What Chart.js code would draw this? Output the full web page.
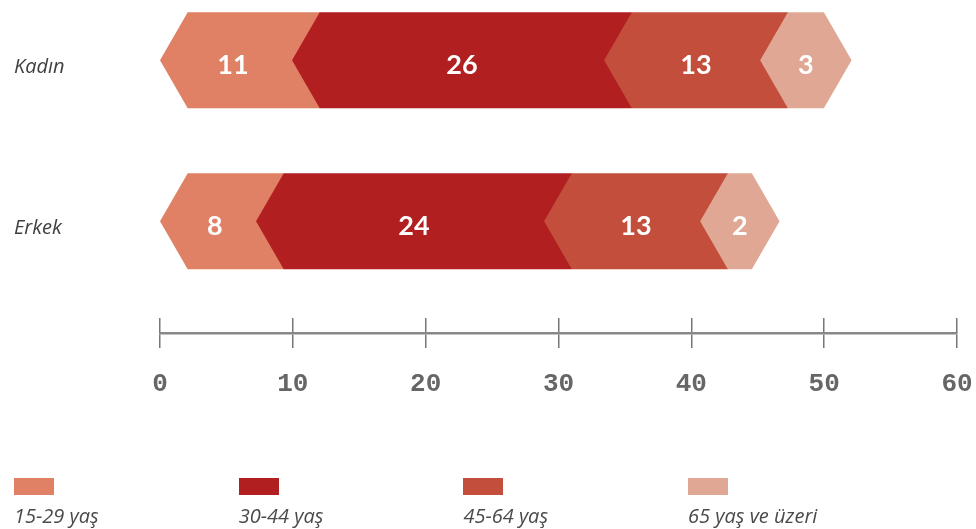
<!DOCTYPE html>
<html>
<head>
<meta charset="utf-8">
<script src="https://cdn.jsdelivr.net/npm/chart.js@4/dist/chart.umd.min.js"></script>
<style>
  html, body { margin: 0; padding: 0; background: #fff; }
  #wrap { position: relative; width: 976px; height: 529px; overflow: hidden; }
  #chart { position: absolute; left: 0; top: 0; }
  .legend-item { position: absolute; top: 478px; }
  .legend-item .swatch { width: 40px; height: 17px; }
  .legend-item .text {
    margin-top: 9px;
    font: italic 20px 'Open Sans', sans-serif;
    color: #4a4a4a;
    white-space: nowrap;
    line-height: 24px;
  }
</style>
</head>
<body>
<div id="wrap">
  <canvas id="chart" width="976" height="529"></canvas>
  <div id="legend"></div>
</div>
<script>
// Rows and age groups
const categories = ['Kadın', 'Erkek'];
const seriesLabels = ['15-29 yaş', '30-44 yaş', '45-64 yaş', '65 yaş ve üzeri'];

// Values per age group, one entry per row (Kadın, Erkek)
const age15to29 = [11, 8];
const age30to44 = [26, 24];
const age45to64 = [13, 13];
const age65plus = [3, 2];

// Axis tick values
const axisTicks = [0, 10, 20, 30, 40, 50, 60];

const seriesValues = [age15to29, age30to44, age45to64, age65plus];
const seriesColors = ['#E08064', '#B21F21', '#C34E3B', '#E0A894'];

const datasets = seriesValues.map((vals, k) => ({
  label: seriesLabels[k],
  data: vals.map((v, i) => ({ x: v, y: i })),
  backgroundColor: seriesColors[k],
  xAxisID: 'bars',
  yAxisID: 'y',
  stack: 'all',
  barThickness: 96
}));

// Draws each stacked segment as a hexagonal arrow, later segments overlapping earlier ones,
// and writes the segment value inside it.
const chevronBars = {
  id: 'chevronBars',
  beforeDatasetsDraw(chart) {
    const ctx = chart.ctx;
    const metas = chart.getSortedVisibleDatasetMetas().slice().sort((a, b) => a.index - b.index);
    const geom = (bar) => {
      const { x, y, base, height } = bar.getProps(['x', 'y', 'base', 'height'], true);
      const d = (height / 2) * Math.tan(Math.PI / 6);
      return { x, y, base, height, d };
    };
    ctx.save();
    metas.forEach((meta) => {
      meta.data.forEach((bar) => {
        const { x, y, base, height, d } = geom(bar);
        const top = y - height / 2, bottom = y + height / 2;
        ctx.beginPath();
        ctx.moveTo(base, y);
        ctx.lineTo(base + d, top);
        ctx.lineTo(x + d, top);
        ctx.lineTo(x + 2 * d, y);
        ctx.lineTo(x + d, bottom);
        ctx.lineTo(base + d, bottom);
        ctx.closePath();
        ctx.fillStyle = bar.options.backgroundColor;
        ctx.fill();
      });
    });
    ctx.fillStyle = '#ffffff';
    ctx.font = 'bold 27px Lato, sans-serif';
    ctx.textAlign = 'center';
    ctx.textBaseline = 'alphabetic';
    metas.forEach((meta, k) => {
      const first = k === 0;
      const last = k === metas.length - 1;
      meta.data.forEach((bar, i) => {
        const { x, y, base, d } = geom(bar);
        const shift = first ? d / 4 : (last ? d : d / 2);
        const value = chart.data.datasets[meta.index].data[i].x;
        ctx.fillText(String(value), (base + x) / 2 + shift, y + 14);
      });
    });
    ctx.restore();
    return false;
  }
};

const tickValues = (scale) => { scale.ticks = axisTicks.map((v) => ({ value: v })); };

const chart = new Chart(document.getElementById('chart'), {
  type: 'bar',
  data: { datasets },
  options: {
    indexAxis: 'y',
    responsive: false,
    animation: false,
    devicePixelRatio: 1,
    layout: { padding: { left: 14, right: 19, top: 0, bottom: 107.8 } },
    plugins: {
      legend: { display: false },
      tooltip: { enabled: false }
    },
    scales: {
      y: {
        type: 'linear',
        reverse: true,
        offset: false,
        min: -0.375,
        max: 1.602,
        stacked: true,
        grid: { display: false },
        border: { display: false },
        afterBuildTicks: (s) => { s.ticks = categories.map((_, i) => ({ value: i })); },
        afterFit: (s) => { s.width = 146; s.paddingTop = 0; s.paddingBottom = 0; },
        ticks: {
          autoSkip: false,
          callback: (v) => categories[v],
          crossAlign: 'far',
          padding: 0,
          labelOffset: 7,
          color: '#404040',
          font: { family: 'Open Sans', style: 'italic', size: 20 }
        }
      },
      bars: {
        type: 'linear',
        position: 'bottom',
        display: false,
        stacked: true,
        min: 0,
        max: 66.4
      },
      tickUp: {
        type: 'linear',
        position: 'bottom',
        weight: 0,
        min: 0,
        max: 60,
        afterBuildTicks: tickValues,
        afterFit: (s) => { s.paddingLeft = 0; s.paddingRight = 0; },
        grid: { drawOnChartArea: false, tickLength: 15, color: '#777', lineWidth: 1.5 },
        border: { display: false },
        ticks: { display: false }
      },
      x: {
        type: 'linear',
        position: 'bottom',
        weight: 1,
        min: 0,
        max: 60,
        afterBuildTicks: tickValues,
        afterFit: (s) => { s.paddingLeft = 0; s.paddingRight = 0; },
        grid: { drawOnChartArea: false, tickLength: 15, color: '#777', lineWidth: 1.5 },
        border: { display: true, color: '#888', width: 2.5 },
        ticks: {
          autoSkip: false,
          maxRotation: 0,
          padding: 21,
          color: '#666',
          font: { family: 'Liberation Mono', weight: 'bold', size: 26 }
        }
      }
    }
  },
  plugins: [chevronBars]
});

// Legend: colour swatch above each age-group label
const legend = document.getElementById('legend');
chart.data.datasets.forEach((ds, k) => {
  const item = document.createElement('div');
  item.className = 'legend-item';
  item.style.left = (14 + k * 224.7) + 'px';
  const sw = document.createElement('div');
  sw.className = 'swatch';
  sw.style.background = ds.backgroundColor;
  const tx = document.createElement('div');
  tx.className = 'text';
  tx.textContent = ds.label;
  item.appendChild(sw);
  item.appendChild(tx);
  legend.appendChild(item);
});
</script>
</body>
</html>
